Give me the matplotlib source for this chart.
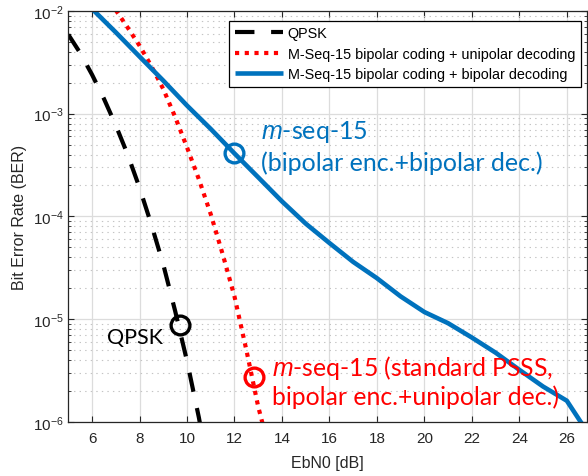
import matplotlib
matplotlib.use("Agg")
import matplotlib.pyplot as plt
import numpy as np
from matplotlib.ticker import LogLocator, NullFormatter, FixedLocator

plt.rcParams['font.family'] = ['Liberation Sans', 'DejaVu Sans']
plt.rcParams['mathtext.fontset'] = 'custom'
plt.rcParams['mathtext.rm'] = 'Liberation Sans'
plt.rcParams['mathtext.it'] = 'Liberation Sans:italic'
plt.rcParams['lines.scale_dashes'] = False

# ---- data ----
qpsk_x = [5, 5.5, 6, 6.5, 7, 7.5, 8, 8.5, 9, 9.5, 10, 10.5, 11]
qpsk_ber = [5.9e-3, 3.9e-3, 2.4e-3, 1.4e-3, 7.7e-4, 4.0e-4, 1.9e-4, 8.3e-5,
            3.4e-5, 1.2e-5, 3.9e-6, 1.1e-6, 2.6e-7]

uni_x = [7, 7.5, 8, 8.5, 9, 9.5, 10, 10.5, 11, 11.5, 12, 12.5, 13, 13.5]
uni_ber = [1.02e-2, 6.9e-3, 4.6e-3, 2.9e-3, 1.74e-3, 9.3e-4, 4.7e-4, 2.3e-4,
           1.05e-4, 4.3e-5, 1.66e-5, 5.0e-6, 1.4e-6, 5.0e-7]

bi_x = [6, 7, 8, 9, 10, 11, 12, 13, 14, 15, 16, 17, 18, 19, 20, 21, 22, 23,
        24, 25, 26, 27]
bi_ber = [1.05e-2, 6.2e-3, 3.6e-3, 2.1e-3, 1.2e-3, 7.1e-4, 4.1e-4, 2.4e-4,
          1.4e-4, 8.5e-5, 5.5e-5, 3.6e-5, 2.5e-5, 1.66e-5, 1.17e-5, 9.1e-6,
          6.6e-6, 4.7e-6, 3.2e-6, 2.2e-6, 1.6e-6, 7.1e-7]

legend_labels = ['QPSK', 'M-Seq-15 bipolar coding + unipolar decoding',
                 'M-Seq-15 bipolar coding + bipolar decoding']

# annotation circles (x, y)
circ_qpsk = (9.69, 8.8e-6)
circ_uni = (12.84, 2.7e-6)
circ_bi = (11.97, 4.1e-4)

x_ticks = [6, 8, 10, 12, 14, 16, 18, 20, 22, 24, 26]

BLUE = '#0072BD'
RED = '#FF0000'
AX = '#262626'

fig = plt.figure(figsize=(5.88, 4.77), dpi=100)
ax = fig.add_axes([68.3/588, 1-422.7/477, (587-68.3)/588, (422.7-12)/477])

ax.plot(qpsk_x, qpsk_ber, color='black', lw=3.0, dashes=(14, 12),
        dash_capstyle='butt', label=legend_labels[0])
ax.plot(uni_x, uni_ber, color=RED, lw=3.0, dashes=(3, 4),
        dash_capstyle='butt', label=legend_labels[1])
ax.plot(bi_x, bi_ber, color=BLUE, lw=3.3, solid_capstyle='butt',
        solid_joinstyle='round', label=legend_labels[2])

for (cx, cy), col in [(circ_qpsk, 'black'), (circ_uni, RED), (circ_bi, BLUE)]:
    ax.plot([cx], [cy], marker='o', ms=13.5, mfc='none', mec=col, mew=2.4,
            linestyle='none')

ax.set_yscale('log')
ax.set_xlim(5, 26.85)
ax.set_ylim(1e-6, 1e-2)
ax.xaxis.set_major_locator(FixedLocator(x_ticks))
ax.yaxis.set_major_locator(LogLocator(base=10, numticks=10))
ax.yaxis.set_minor_locator(LogLocator(base=10, subs=np.arange(2, 10), numticks=50))
ax.yaxis.set_minor_formatter(NullFormatter())

ax.grid(True, which='major', color='#dcdcdc', lw=0.9, ls='-')
ax.grid(True, which='minor', axis='y', color='#c4c4c4', lw=0.8, ls=(0, (1, 3)))
ax.set_axisbelow(True)

ax.tick_params(which='both', direction='in', top=True, right=True, colors=AX,
               labelsize=11)
ax.tick_params(axis='x', which='major', pad=7)
ax.tick_params(which='major', length=4.5, width=0.8)
ax.tick_params(which='minor', length=2.5, width=0.6)
for s in ax.spines.values():
    s.set_color(AX)
    s.set_linewidth(0.9)

ax.set_xlabel('EbN0 [dB]', fontsize=11.5, color=AX, labelpad=7)
ax.set_ylabel('Bit Error Rate (BER)', fontsize=11.5, color=AX, labelpad=4)

leg = ax.legend(loc='upper right', bbox_to_anchor=(0.9884, 0.9764),
                fontsize=10.4, frameon=True, fancybox=False,
                edgecolor='black', framealpha=1, handlelength=3.3,
                borderaxespad=0, labelspacing=0.45, handletextpad=0.35,
                borderpad=0.4)
leg.get_frame().set_linewidth(0.9)

afont = ['Lato', 'DejaVu Sans']
ax.text(13.1, 10**-3.165, r'$\it{m}$-seq-15', color=BLUE, fontsize=18,
        family=afont, va='center', ha='left')
ax.text(13.1, 10**-3.47, '(bipolar enc.+bipolar dec.)', color=BLUE,
        fontsize=18, family=afont, va='center', ha='left')
ax.text(6.63, 10**-5.174, 'QPSK', color='black', fontsize=15.5, family=afont,
        va='center', ha='left')
ax.text(13.59, 10**-5.465, r'$\it{m}$-seq-15 (standard PSSS,', color=RED,
        fontsize=17.8, family=afont, va='center', ha='left')
ax.text(13.59, 10**-5.755, 'bipolar enc.+unipolar dec.)', color=RED,
        fontsize=17.8, family=afont, va='center', ha='left')

fig.savefig('out.png', dpi=100)
